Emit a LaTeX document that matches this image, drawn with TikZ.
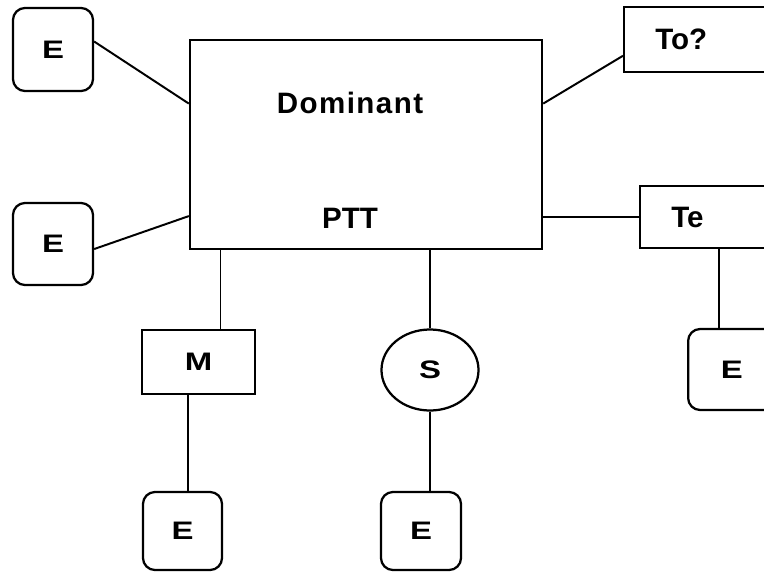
\documentclass[tikz,border=0pt]{standalone}
\usepackage{fontspec}
\setmainfont{Liberation Sans}
\newfontfamily\spacedsans{Liberation Sans}[LetterSpace=5]
\newfontfamily\widesans{Liberation Sans}[FakeStretch=1.3]
\usetikzlibrary{shapes.geometric}

\begin{document}
\begin{tikzpicture}[
  x=0.025cm, y=-0.025cm,
  font=\widesans\bfseries\fontsize{18}{21}\selectfont,
  box/.style={draw=black, line width=1.6pt, fill=white, inner sep=0pt},
  endbox/.style={box, rounded corners=0.3cm, minimum width=2cm, minimum height=2cm},
  bigtext/.style={font=\rmfamily\bfseries\fontsize{21}{24}\selectfont},
  sidebox/.style={box, bigtext, anchor=west, align=left, text width=3cm, inner xsep=0.78cm},
  link/.style={line width=1.4pt}
]
\clip (0,0) rectangle (764,572);

% Central operator
\node[box, minimum width=8.8cm, minimum height=5.225cm] (dom) at (366,144.5) {};
\node[font=\spacedsans\bfseries\fontsize{21}{24}\selectfont] (domlabel) at (350,103) {Dominant};
\node[bigtext] (pttlabel) at (350,218) {PTT};

% Left side
\node[endbox, minimum height=2.075cm] (e1) at (53,49.5) {E};
\node[endbox, minimum height=2.05cm] (e2) at (53,244) {E};

% Right side
\node[sidebox, minimum height=1.625cm] (to) at (623,39.5) {To?};
\node[sidebox, minimum height=1.55cm] (te) at (639,217) {Te};
\node[sidebox, rounded corners=0.3cm, inner xsep=0.82cm, minimum height=2.025cm,
  font=\widesans\bfseries\fontsize{18}{21}\selectfont] (e5) at (687,369.5) {E};

% Lower branch
\node[box, minimum width=2.825cm, minimum height=1.6cm] (m) at (198.5,362) {M};
\node[box, ellipse, minimum width=2.425cm, minimum height=2.025cm] (s) at (430,370) {S};
\node[endbox, minimum width=1.975cm, minimum height=1.95cm] (e3) at (182.5,531) {E};
\node[endbox, minimum height=1.95cm] (e4) at (421,531) {E};

% Links
\draw[link] (e1.11) -- (dom.167);
\draw[link] (e2.-7) -- (dom.202);
\draw[link] (dom.13) -- (to.190);
\draw[link] (dom.east |- te.west) -- (te.west);
\draw[link] ([xshift=2cm]te.south west) -- ([xshift=2cm]te.south west |- e5.north);
\draw[link] ([xshift=0.55cm]m.north) -- ([xshift=0.55cm]m.north |- dom.south);
\draw[link] ([xshift=0.14cm]e3.north) -- ([xshift=0.14cm]e3.north |- m.south);
\draw[link] (s.north) -- (s.north |- dom.south);
\draw[link] (s.south) -- (s.south |- e4.north);
\end{tikzpicture}
\end{document}
